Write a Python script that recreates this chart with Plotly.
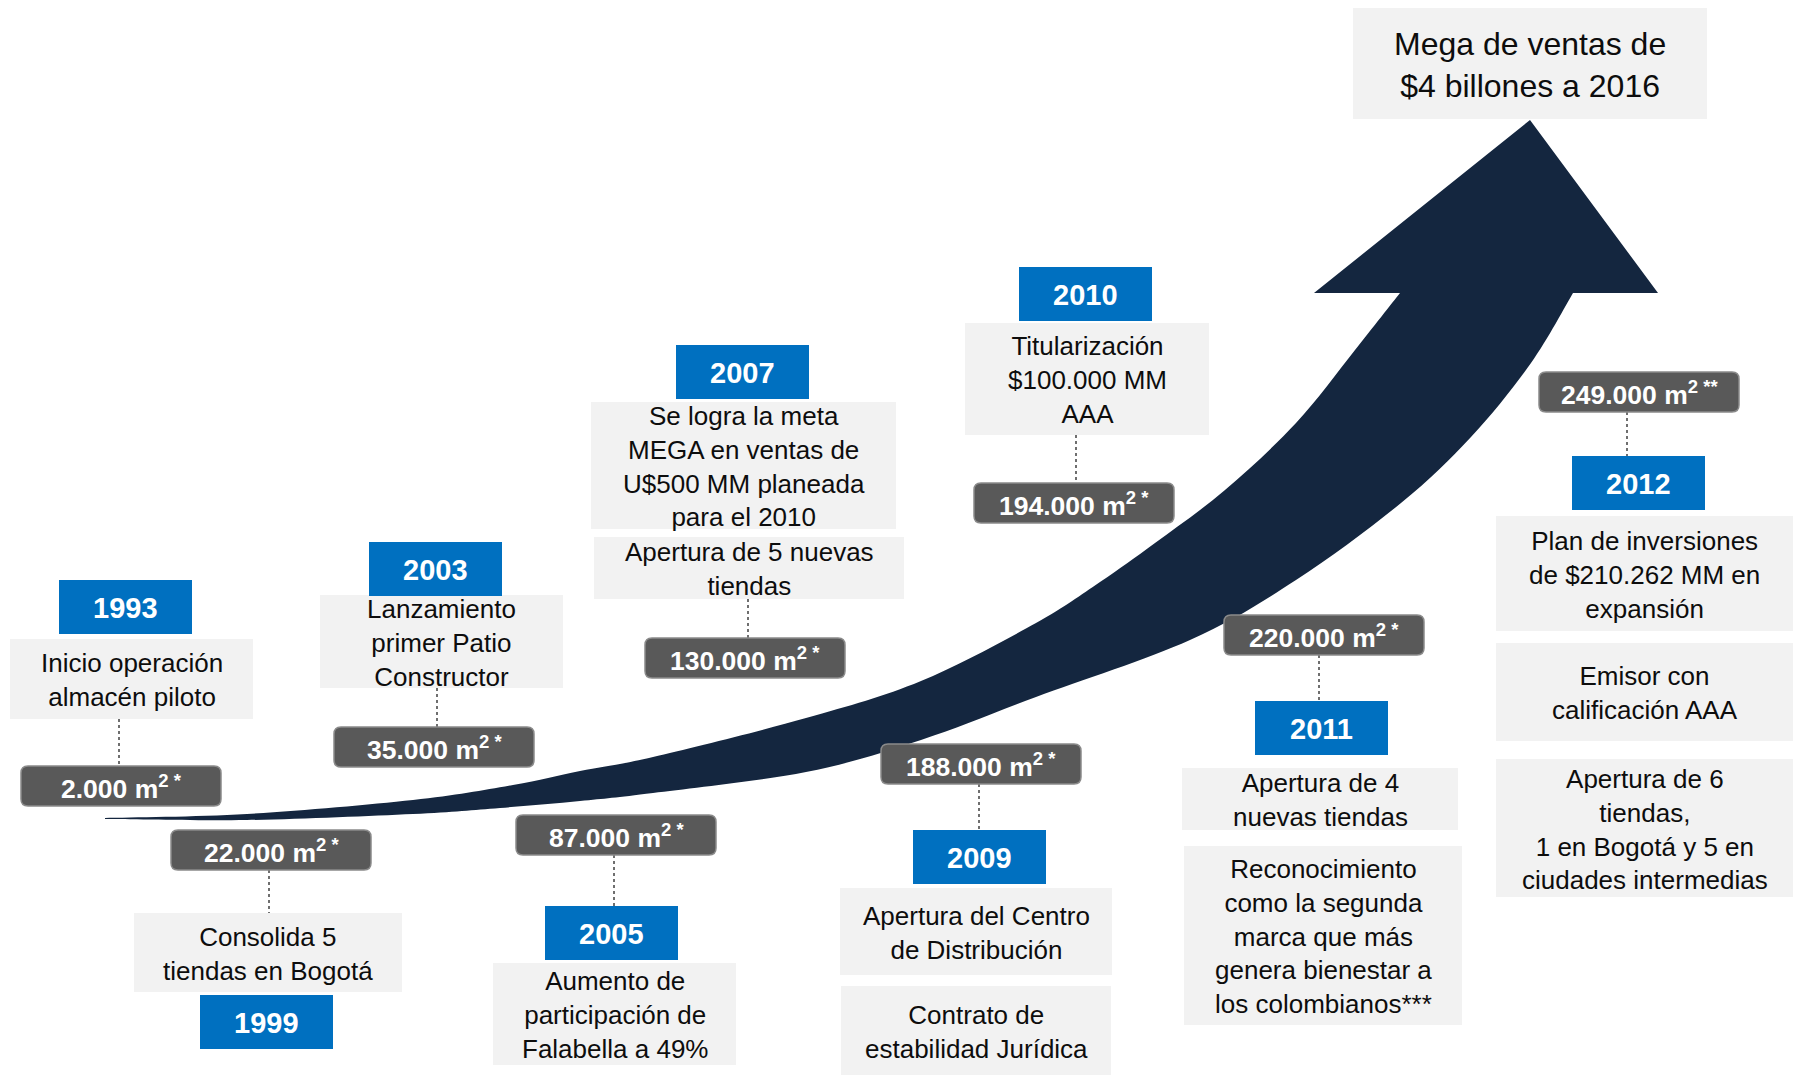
import plotly.graph_objects as go

W, H = 1801, 1075
PAGE_MARGIN = 8  # default body margin of the html page

# ---------------- data ----------------
years = ["1993", "1999", "2003", "2005", "2007", "2009", "2010", "2011", "2012"]
areas = ["2.000", "22.000", "35.000", "87.000", "130.000", "188.000", "194.000", "220.000", "249.000"]
area_notes = ["*", "*", "*", "*", "*", "*", "*", "*", "**"]
events = [
    ["Inicio operación<br>almacén piloto"],
    ["Consolida 5<br>tiendas en Bogotá"],
    ["Lanzamiento<br>primer Patio<br>Constructor"],
    ["Aumento de<br>participación de<br>Falabella a 49%"],
    ["Se logra la meta<br>MEGA en ventas de<br>U$500 MM planeada<br>para el 2010",
     "Apertura de 5 nuevas<br>tiendas"],
    ["Apertura del Centro<br>de Distribución", "Contrato de<br>estabilidad Jurídica"],
    ["Titularización<br>$100.000 MM<br>AAA"],
    ["Apertura de 4<br>nuevas tiendas",
     "Reconocimiento<br>como la segunda<br>marca que más<br>genera bienestar a<br>los colombianos***"],
    ["Plan de inversiones<br>de $210.262 MM en<br>expansión", "Emisor con<br>calificación AAA",
     "Apertura de 6<br>tiendas,<br>1 en Bogotá y 5 en<br>ciudades intermedias"],
]
goal_text = "Mega de ventas de<br>$4 billones a 2016"

# ---------------- layout (pixel positions in the picture) ----------------
year_pos = [(59, 580), (200, 995), (369, 542), (545, 906), (676, 345),
            (913, 830), (1019, 267), (1255, 701), (1572, 456)]
YEAR_W, YEAR_H = 133, 54
area_pos = [(21, 766), (171, 830), (334, 727), (516, 815), (645, 638),
            (881, 744), (974, 483), (1224, 615), (1539, 372)]
AREA_W, AREA_H = 200, 40
event_boxes = [
    [(10, 639, 253, 719)],
    [(134, 913, 402, 992)],
    [(320, 595, 563, 688)],
    [(493, 963, 736, 1065)],
    [(591, 402, 896, 529), (594, 537, 904, 599)],
    [(840, 888, 1112, 975), (841, 986, 1111, 1075)],
    [(965, 323, 1209, 435)],
    [(1182, 768, 1458, 830), (1184, 846, 1462, 1025)],
    [(1496, 516, 1793, 631), (1496, 643, 1793, 741), (1496, 759, 1793, 897)],
]
connectors = [(119, 719, 766), (269, 870, 913), (437, 688, 727), (614, 855, 906),
              (748, 599, 638), (979, 784, 830), (1076, 435, 483), (1319, 655, 701),
              (1627, 412, 456)]
goal_box = (1353, 8, 1707, 119)

arrow_upper = [(105, 818), (247, 814), (413, 800), (513, 785), (580, 771), (653, 757),
               (806, 718), (921, 681), (1036, 623), (1100, 582), (1155, 543), (1225, 490),
               (1296, 423), (1355, 350), (1400, 293)]
arrow_lower = [(105, 819), (247, 820), (413, 814), (500, 808), (580, 801), (653, 793),
               (806, 772), (921, 740), (1036, 697), (1190, 640), (1296, 580), (1401, 503),
               (1471, 437), (1531, 363), (1573, 293)]
arrow_head = [(1314, 293), (1530, 120), (1658, 293)]

# ---------------- styles ----------------
BLUE = "#0070C0"
GREY = "#F2F2F2"
DARK = "#595959"
NAVY = "#14263F"
FONT = "Liberation Sans, Arial, sans-serif"


def smooth(points):
    """Catmull-Rom -> cubic Bezier SVG segments (without the initial M)."""
    pts = [points[0]] + list(points) + [points[-1]]
    seg = ""
    for i in range(1, len(pts) - 2):
        p0, p1, p2, p3 = pts[i - 1], pts[i], pts[i + 1], pts[i + 2]
        c1 = (p1[0] + (p2[0] - p0[0]) / 6, p1[1] + (p2[1] - p0[1]) / 6)
        c2 = (p2[0] - (p3[0] - p1[0]) / 6, p2[1] - (p3[1] - p1[1]) / 6)
        seg += f" C {c1[0]:.1f},{c1[1]:.1f} {c2[0]:.1f},{c2[1]:.1f} {p2[0]:.1f},{p2[1]:.1f}"
    return seg


def rrect_path(x0, y0, x1, y1, r=7):
    return (f"M {x0+r},{y0} L {x1-r},{y0} Q {x1},{y0} {x1},{y0+r} L {x1},{y1-r} "
            f"Q {x1},{y1} {x1-r},{y1} L {x0+r},{y1} Q {x0},{y1} {x0},{y1-r} "
            f"L {x0},{y0+r} Q {x0},{y0} {x0+r},{y0} Z")


shapes = []
annotations = []

# arrow
path = f"M {arrow_upper[0][0]},{arrow_upper[0][1]}" + smooth(arrow_upper)
for (hx, hy) in arrow_head:
    path += f" L {hx},{hy}"
low_rev = arrow_lower[::-1]
path += f" L {low_rev[0][0]},{low_rev[0][1]}" + smooth(low_rev) + " Z"
shapes.append(dict(type="path", xref="x", yref="y", path=path,
                   fillcolor=NAVY, line=dict(width=0), layer="below"))

# goal box
gx0, gy0, gx1, gy1 = goal_box
shapes.append(dict(type="rect", xref="x", yref="y", x0=gx0, y0=gy0, x1=gx1, y1=gy1,
                   fillcolor=GREY, line=dict(width=0)))
annotations.append(dict(x=(gx0 + gx1) / 2, y=(gy0 + gy1) / 2 + 1, xref="x", yref="y",
                        text=goal_text, showarrow=False, xanchor="center", yanchor="middle",
                        font=dict(family=FONT, size=32, color="#0D0D0D"), align="center"))

for i, yr in enumerate(years):
    cx, cy0, cy1 = connectors[i]
    shapes.append(dict(type="line", xref="x", yref="y", x0=cx, x1=cx, y0=cy0, y1=cy1,
                       line=dict(color="#6F6F6F", width=2, dash="dot")))
    for (ex0, ey0, ex1, ey1), txt in zip(event_boxes[i], events[i]):
        shapes.append(dict(type="rect", xref="x", yref="y", x0=ex0, y0=ey0, x1=ex1, y1=ey1,
                           fillcolor=GREY, line=dict(width=0)))
        annotations.append(dict(x=(ex0 + ex1) / 2, y=(ey0 + ey1) / 2 + 1, xref="x", yref="y",
                                text=txt, showarrow=False, xanchor="center", yanchor="middle",
                                align="center",
                                font=dict(family=FONT, size=26, color="#0D0D0D")))
    yx0, yy0 = year_pos[i]
    shapes.append(dict(type="rect", xref="x", yref="y", x0=yx0, y0=yy0,
                       x1=yx0 + YEAR_W, y1=yy0 + YEAR_H, fillcolor=BLUE, line=dict(width=0)))
    annotations.append(dict(x=yx0 + YEAR_W / 2, y=yy0 + YEAR_H / 2 + 1, xref="x", yref="y",
                            text=f"<b>{yr}</b>", showarrow=False, xanchor="center",
                            yanchor="middle",
                            font=dict(family=FONT, size=29, color="white")))
    ax0, ay0 = area_pos[i]
    shapes.append(dict(type="path", xref="x", yref="y",
                       path=rrect_path(ax0, ay0, ax0 + AREA_W, ay0 + AREA_H),
                       fillcolor=DARK, line=dict(color="#8A8A8A", width=1.5)))
    annotations.append(dict(x=ax0 + AREA_W / 2, y=ay0 + AREA_H / 2 + 1, xref="x", yref="y",
                            text=f"<b>{areas[i]} m<sup>2 {area_notes[i]}</sup></b>",
                            showarrow=False, xanchor="center", yanchor="middle",
                            font=dict(family=FONT, size=26.5, color="white")))

fig = go.Figure()
fig.add_trace(go.Scatter(x=[PAGE_MARGIN, W], y=[PAGE_MARGIN, H], mode="markers",
                         marker=dict(opacity=0), hoverinfo="skip", showlegend=False))
fig.update_layout(
    width=W, height=H,
    margin=dict(l=0, r=0, t=0, b=0),
    paper_bgcolor="white", plot_bgcolor="white",
    xaxis=dict(range=[PAGE_MARGIN, W + PAGE_MARGIN], visible=False, fixedrange=True),
    yaxis=dict(range=[H + PAGE_MARGIN, PAGE_MARGIN], visible=False, fixedrange=True),
    shapes=shapes, annotations=annotations, showlegend=False,
)
fig.write_html("out.html")
